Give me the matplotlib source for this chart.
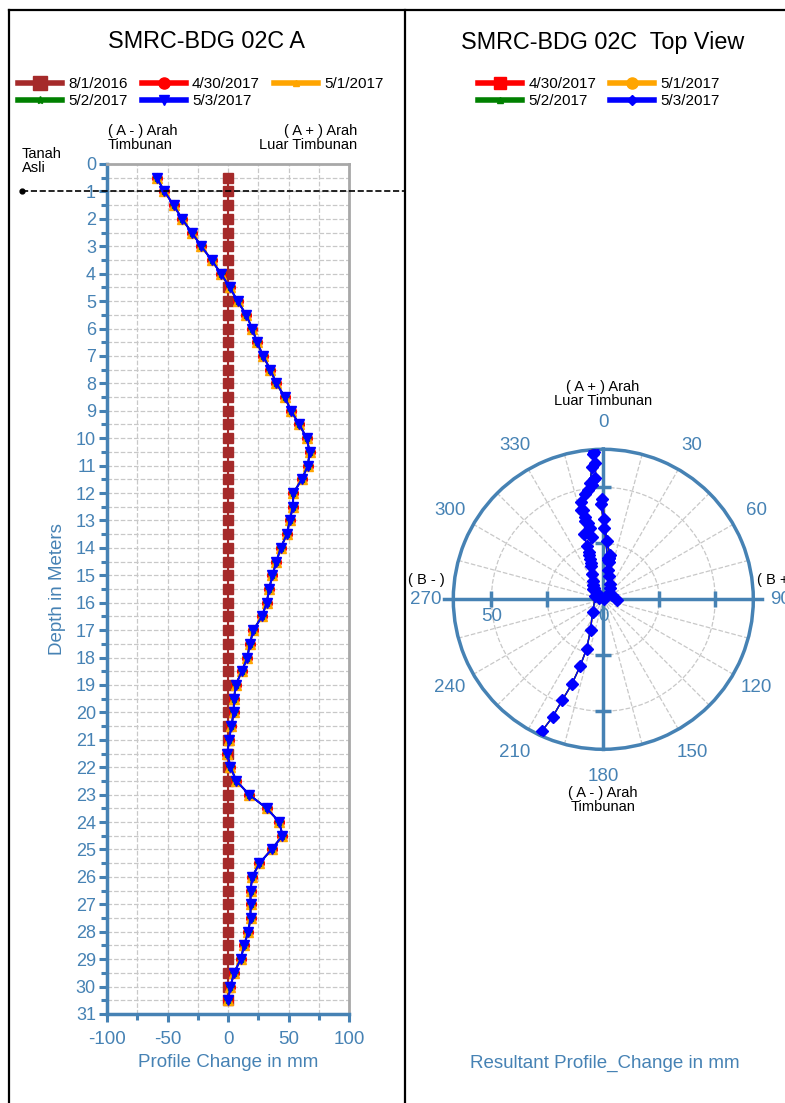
import numpy as np
import matplotlib.pyplot as plt
from matplotlib.lines import Line2D
import matplotlib.transforms as mtransforms

plt.rcParams['font.family'] = ['Liberation Sans', 'DejaVu Sans']
plt.rcParams['axes.unicode_minus'] = False

W, H = 785, 1103
BLUE = '#4682b4'
GRID = '#c8c8c8'

# depth of each reading (m)
depth = [0.5, 1.0, 1.5, 2.0, 2.5, 3.0, 3.5, 4.0, 4.5, 5.0, 5.5, 6.0, 6.5, 7.0, 7.5,
         8.0, 8.5, 9.0, 9.5, 10.0, 10.5, 11.0, 11.5, 12.0, 12.5, 13.0, 13.5, 14.0,
         14.5, 15.0, 15.5, 16.0, 16.5, 17.0, 17.5, 18.0, 18.5, 19.0, 19.5, 20.0,
         20.5, 21.0, 21.5, 22.0, 22.5, 23.0, 23.5, 24.0, 24.5, 25.0, 25.5, 26.0,
         26.5, 27.0, 27.5, 28.0, 28.5, 29.0, 29.5, 30.0, 30.5]

# profile change along A axis (mm), 2017 readings overlap each other
prof_a = [-59, -52.5, -45, -38, -30, -22, -13.6, -5.8, 1.4, 8, 15, 20, 24, 29, 35,
          40, 47, 52, 59, 65, 67.5, 66, 61, 54, 53.6, 51, 48.6, 43.6,
          40, 36.7, 34, 32, 28, 21, 18, 16, 11.4, 6.4, 5, 4.7,
          2.8, 0.8, -0.5, 2, 7, 17.5, 32, 42.5, 45, 36, 26, 20,
          18.6, 18.6, 18.6, 16.7, 13.3, 10.5, 5, 2, 0]

# profile change along B axis (mm)
prof_b = [-27.5, -22.6, -18.3, -14.1, -10.4, -7.4, -5.7, -4.8, -3.5, -4.5, -5.5, -6.5, -7.5, -8.5, -8,
          -9, -8, -6, -5, -4.5, -4.5, -4, -3.5, -3.5, -4, -5, -7, -10,
          -10, -8, -7, -6, -5, -6.5, -6, -5.5, -5, -4.5, -4, -4.5,
          -3, -2, 6, 4, 3, 2, 0.5, -1, -0.5, 0.5, 1.5, 3,
          2.5, 2, 2.5, 2.5, 2, 2.5, 3, 1.5, 0.5]

base_a = [0.0] * len(depth)   # 8/1/2016 initial reading

a_0430, a_0501, a_0502, a_0503 = prof_a, prof_a, prof_a, prof_a
b_0430, b_0501, b_0502, b_0503 = prof_b, prof_b, prof_b, prof_b

r_max = 67
r_labels = [0, 50]

fig = plt.figure(figsize=(W / 100, H / 100), dpi=100)

def px(x, y):
    return x / W, 1 - y / H

# ---- left panel: profile along A ----
ax = fig.add_axes([107 / W, 1 - 1014 / H, 242 / W, 850 / H])
ax.plot(base_a, depth, color='#a52a2a', marker='s', ms=7.5, lw=1.5, zorder=3)
ax.plot(a_0430, depth, color='red', marker='o', ms=7, lw=1.2, zorder=4)
ax.plot(a_0501, depth, color='orange', marker='^', ms=7, lw=1.2, zorder=5)
ax.plot(a_0502, depth, color='green', marker='*', ms=6, lw=1.2, zorder=6)
ax.plot(a_0503, depth, color='blue', marker='v', ms=7.5, lw=1.5, zorder=7)

ax.set_xlim(-100, 100)
ax.set_ylim(31, 0)
ax.set_xticks(range(-100, 101, 50))
ax.set_xticks(range(-75, 100, 50), minor=True)
ax.set_yticks(range(0, 32))
ax.set_yticks(np.arange(0.5, 31, 1.0), minor=True)
ax.grid(True, which='both', color=GRID, ls='--', lw=0.9)
ax.set_axisbelow(True)
for s in ['left', 'bottom']:
    ax.spines[s].set_color(BLUE)
    ax.spines[s].set_linewidth(2.5)
for s in ['top', 'right']:
    ax.spines[s].set_color('#a8a8a8')
    ax.spines[s].set_linewidth(2)
ax.tick_params(which='major', length=6, width=2.2, color=BLUE, labelcolor=BLUE,
               labelsize=13, pad=2)
ax.tick_params(axis='x', which='major', labelsize=13.5, pad=6)
ax.tick_params(which='minor', length=4.5, width=2.2, color=BLUE)
ax.set_xlabel('Profile Change in mm', color=BLUE, fontsize=13.5)
ax.set_ylabel('Depth in Meters', color=BLUE, fontsize=13.5)
ax.xaxis.set_label_coords(0.5, -0.0576)
ax.xaxis.label.set_va('center')
ax.yaxis.set_label_coords(-0.2025, 0.5)
ax.yaxis.label.set_va('center')

# ground level line at 1 m
tr = mtransforms.blended_transform_factory(fig.transFigure, ax.transData)
ax.plot([22 / W, 405 / W], [1, 1], color='black', ls='--', lw=1.2,
        transform=tr, clip_on=False, zorder=8)
ax.plot([22 / W], [1], color='black', marker='o', ms=3.5, transform=tr,
        clip_on=False, zorder=8)
fig.text(*px(22, 147), 'Tanah\nAsli', fontsize=10.5, va='top', ha='left', linespacing=1.0)
fig.text(*px(108, 124), '( A - ) Arah\nTimbunan', fontsize=10.5, va='top', ha='left', linespacing=1.0)
fig.text(*px(357, 124), '( A + ) Arah\nLuar Timbunan', fontsize=10.5, va='top', ha='right',
         linespacing=1.0, multialignment='right')

fig.text(*px(207, 42), 'SMRC-BDG 02C A', fontsize=16.8, ha='center', va='center')

lh = [Line2D([], [], color='#a52a2a', lw=4, marker='s', ms=10),
      Line2D([], [], color='green', lw=4, marker='*', ms=6),
      Line2D([], [], color='red', lw=4, marker='o', ms=8),
      Line2D([], [], color='blue', lw=4, marker='v', ms=7),
      Line2D([], [], color='orange', lw=4, marker='^', ms=5)]
ll = ['8/1/2016', '5/2/2017', '4/30/2017', '5/3/2017', '5/1/2017']
fig.legend(lh, ll, ncol=3, loc='upper left', bbox_to_anchor=px(18, 77), frameon=False,
           borderpad=0, borderaxespad=0, fontsize=11, handlelength=2.9,
           handletextpad=0.4, columnspacing=0.9, labelspacing=0.2)

# ---- right panel: top view ----
pax = fig.add_axes([453.3 / W, 1 - 749.3 / H, 300 / W, 300 / H], projection='polar')
pax.set_theta_zero_location('N')
pax.set_theta_direction(-1)

series = [(a_0430, b_0430, 'red', 's', 5),
          (a_0501, b_0501, 'orange', 'o', 5),
          (a_0502, b_0502, 'green', '^', 5),
          (a_0503, b_0503, 'blue', 'D', 6.5)]
for k, (a, b, c, m, ms) in enumerate(series):
    a = np.array(a)
    b = np.array(b)
    pax.plot(np.arctan2(b, a), np.hypot(a, b), color=c, marker=m, ms=ms, lw=1.0,
             zorder=4 + k)

pax.set_ylim(0, r_max)
pax.set_rticks([25, 50])
pax.set_yticklabels([])
angs = list(range(0, 360, 15))
pax.set_thetagrids(angs, labels=[str(a) if a % 30 == 0 else '' for a in angs])
pax.grid(True, color=GRID, ls='--', lw=0.9)
pax.spines['polar'].set_color(BLUE)
pax.spines['polar'].set_linewidth(2.5)
pax.tick_params(axis='x', colors=BLUE, labelsize=13.5, pad=9, length=7, width=2,
                direction='inout')
pax.tick_params(axis='y', length=0)

for deg in [0, 90, 180, 270]:
    ext = r_max * 1.06 if deg in (90, 270) else r_max
    pax.plot([np.deg2rad(deg)] * 2, [0, ext], color=BLUE, lw=2.5, clip_on=False, zorder=3)
    mk = '_' if deg in (0, 180) else '|'
    pax.plot([np.deg2rad(deg)] * 2, [25, 50], ls='none', marker=mk, ms=11,
             mew=2.5, color=BLUE, clip_on=False, zorder=3)
for v in r_labels:
    pax.annotate(str(v), xy=(np.deg2rad(270), v), xytext=(0, -6),
                 textcoords='offset points', ha='center', va='top',
                 color=BLUE, fontsize=13.5)

fig.text(*px(603, 42), 'SMRC-BDG 02C  Top View', fontsize=16.8, ha='center', va='center')
fig.text(*px(603, 394), '( A + ) Arah\nLuar Timbunan', fontsize=10.5, ha='center',
         va='center', linespacing=1.0)
fig.text(*px(603, 800), '( A - ) Arah\nTimbunan', fontsize=10.5, ha='center',
         va='center', linespacing=1.0)
fig.text(*px(408, 580), '( B - )', fontsize=10.5, ha='left', va='center')
fig.text(*px(757, 580), '( B + )', fontsize=10.5, ha='left', va='center')
fig.text(*px(605, 1063), 'Resultant Profile_Change in mm', color=BLUE, fontsize=13.5,
         ha='center', va='center')

rh = [Line2D([], [], color='red', lw=4, marker='s', ms=8),
      Line2D([], [], color='green', lw=4, marker='^', ms=5),
      Line2D([], [], color='orange', lw=4, marker='o', ms=8),
      Line2D([], [], color='blue', lw=4, marker='D', ms=5)]
rl = ['4/30/2017', '5/2/2017', '5/1/2017', '5/3/2017']
fig.legend(rh, rl, ncol=2, loc='upper left', bbox_to_anchor=px(478, 77), frameon=False,
           borderpad=0, borderaxespad=0, fontsize=11, handlelength=2.9,
           handletextpad=0.4, columnspacing=0.9, labelspacing=0.2)

# panel borders
for xs, ys in [([9, 9], [10, H]), ([9, W], [10, 10]), ([405, 405], [10, H])]:
    fig.add_artist(Line2D([x / W for x in xs], [1 - y / H for y in ys],
                          transform=fig.transFigure, color='black', lw=1.6))

fig.savefig('out.png', dpi=100)
